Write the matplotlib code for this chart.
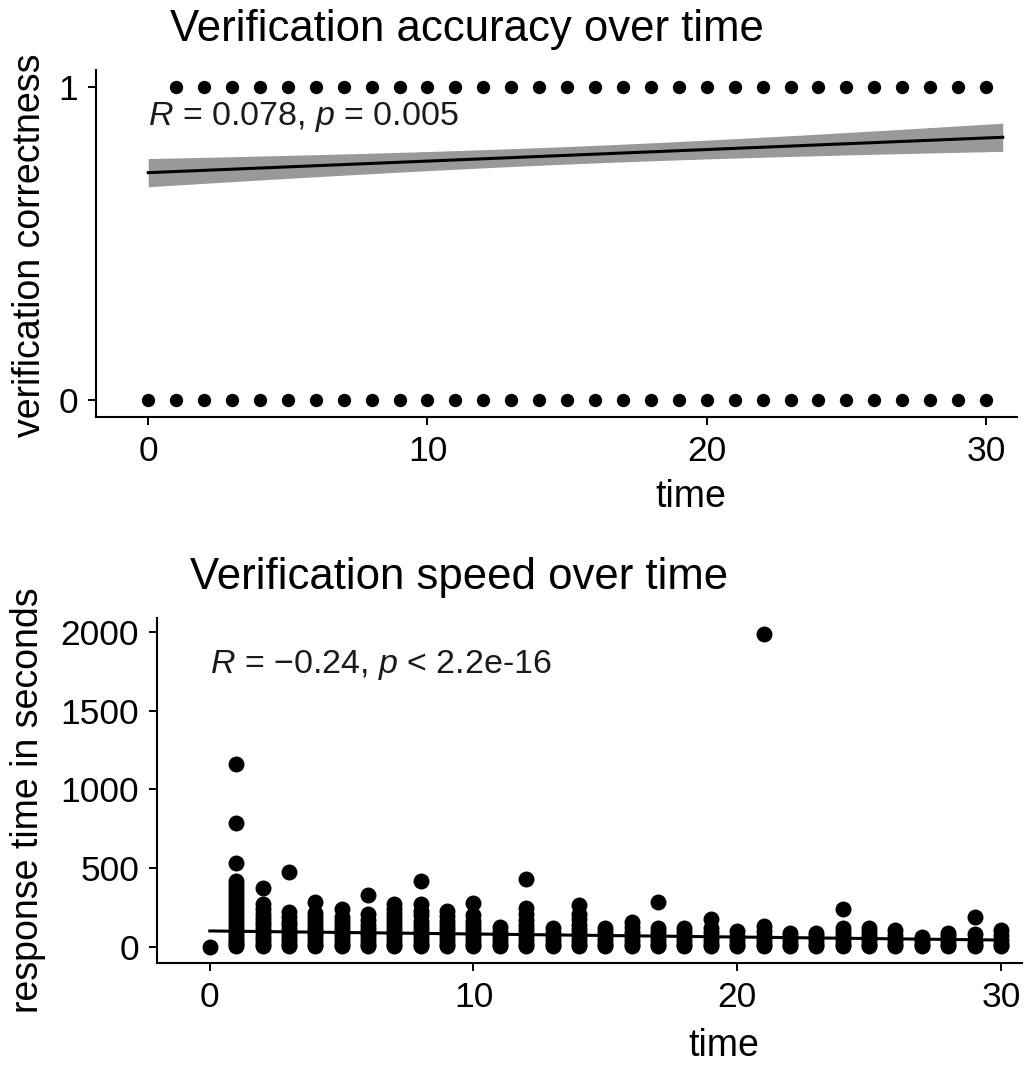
import matplotlib
matplotlib.use('Agg')
import matplotlib.pyplot as plt
import numpy as np

plt.rcParams['font.family'] = ['Liberation Sans', 'DejaVu Sans']
plt.rcParams['mathtext.fontset'] = 'custom'
plt.rcParams['mathtext.rm'] = 'Liberation Sans'
plt.rcParams['mathtext.it'] = 'Liberation Sans:italic'

# ---------------- data: verification accuracy ----------------
acc_time_wrong = [0, 1, 2, 3, 4, 5, 6, 7, 8, 9, 10, 11, 12, 13, 14, 15, 16, 17, 18, 19, 20,
                  21, 22, 23, 24, 25, 26, 27, 28, 29, 30]
acc_time_right = [1, 2, 3, 4, 5, 6, 7, 8, 9, 10, 11, 12, 13, 14, 15, 16, 17, 18, 19, 20,
                  21, 22, 23, 24, 25, 26, 27, 28, 29, 30]
acc_fit_intercept = 0.7255
acc_fit_slope = 0.00369
acc_fit_xmax = 30.6
acc_band_center = 0.028      # half-width of CI at mean time
acc_band_end = 0.045         # half-width of CI at the ends
acc_label = r'$\mathit{R}$ = 0.078, $\mathit{p}$ = 0.005'

# ---------------- data: verification speed ----------------
speed_time = (
    [0]
    + [1] * 22
    + [2] * 13
    + [3] * 11
    + [4] * 11
    + [5] * 10
    + [6] * 10
    + [7] * 12
    + [8] * 12
    + [9] * 10
    + [10] * 10
    + [11] * 6
    + [12] * 11
    + [13] * 6
    + [14] * 10
    + [15] * 6
    + [16] * 7
    + [17] * 7
    + [18] * 6
    + [19] * 7
    + [20] * 5
    + [21] * 7
    + [22] * 5
    + [23] * 5
    + [24] * 7
    + [25] * 6
    + [26] * 5
    + [27] * 4
    + [28] * 5
    + [29] * 5
    + [30] * 5
)
speed_seconds = (
    [0]
    + [5, 15, 30, 50, 70, 90, 115, 140, 165, 190, 215, 240, 265, 290, 315, 340, 365, 390, 418, 534, 789, 1162]
    + [5, 20, 40, 60, 85, 110, 135, 160, 185, 210, 240, 269, 375]
    + [5, 20, 40, 60, 85, 110, 135, 160, 190, 223, 477]
    + [5, 20, 40, 65, 90, 115, 140, 165, 190, 212, 286]
    + [5, 20, 40, 65, 90, 115, 140, 165, 190, 237]
    + [5, 20, 40, 65, 90, 115, 140, 170, 206, 329]
    + [5, 20, 40, 65, 90, 115, 140, 165, 190, 215, 240, 270]
    + [5, 20, 40, 65, 90, 115, 140, 165, 200, 230, 270, 420]
    + [5, 20, 40, 65, 90, 115, 140, 165, 195, 225]
    + [5, 20, 40, 65, 90, 115, 140, 165, 200, 276]
    + [5, 20, 40, 65, 95, 123]
    + [5, 20, 40, 65, 90, 115, 140, 170, 205, 245, 433]
    + [5, 20, 40, 65, 90, 120]
    + [5, 20, 40, 65, 90, 115, 140, 175, 205, 267]
    + [5, 20, 45, 70, 95, 121]
    + [5, 20, 45, 70, 95, 125, 159]
    + [5, 20, 45, 70, 95, 121, 285]
    + [5, 20, 45, 70, 95, 121]
    + [5, 20, 45, 70, 95, 121, 178]
    + [5, 20, 45, 70, 100]
    + [5, 20, 45, 70, 100, 131, 1990]
    + [5, 20, 45, 65, 89]
    + [5, 20, 45, 65, 89]
    + [5, 20, 45, 70, 95, 121, 242]
    + [5, 20, 45, 70, 95, 121]
    + [5, 20, 45, 75, 104]
    + [5, 20, 40, 61]
    + [5, 20, 45, 65, 89]
    + [5, 20, 45, 80, 187]
    + [5, 20, 45, 75, 104]
)
speed_fit_intercept = 100.0
speed_fit_slope = -1.93
speed_fit_xmax = 30.2
speed_label = r'$\mathit{R}$ = −0.24, $\mathit{p}$ < 2.2e-16'

x_ticks = [0, 10, 20, 30]
acc_y_ticks = [0, 1]
speed_y_ticks = [0, 500, 1000, 1500, 2000]

# ---------------- figure ----------------
W, H = 1029, 1068
fig = plt.figure(figsize=(W / 100, H / 100), dpi=100)


def rect(l, r, t, b):
    return [l / W, 1 - b / H, (r - l) / W, (b - t) / H]


def px(x, y):
    return x / W, 1 - y / H


TICK_FS = 25.5
LABEL_FS = 27
TITLE_FS = 31.5
ANNOT_FS = 24.5


def style(ax):
    for s in ['top', 'right']:
        ax.spines[s].set_visible(False)
    for s in ['left', 'bottom']:
        ax.spines[s].set_linewidth(1.5)
        ax.spines[s].set_color('black')
    ax.tick_params(direction='out', length=6, width=1.4, colors='black',
                   labelsize=TICK_FS, pad=7)
    ax.set_xticks(x_ticks)


# ---- top panel ----
ax1 = fig.add_axes(rect(96, 1016.7, 70, 416.7))
style(ax1)
ax1.set_xlim(-1.87, 31.1)
ax1.set_ylim(-0.053, 1.053)
ax1.set_yticks(acc_y_ticks)

xs = np.linspace(0, acc_fit_xmax, 200)
xm = acc_fit_xmax / 2
b = np.sqrt((acc_band_end ** 2 - acc_band_center ** 2)) / xm
hw = np.sqrt(acc_band_center ** 2 + (b * (xs - xm)) ** 2)
yfit = acc_fit_intercept + acc_fit_slope * xs
ax1.fill_between(xs, yfit - hw, yfit + hw, color='#999999', lw=0, zorder=2)
ax1.plot(xs, yfit, color='black', lw=2.2, zorder=3)
ax1.scatter(acc_time_wrong, [0] * len(acc_time_wrong), s=92, color='black',
            lw=0, zorder=4)
ax1.scatter(acc_time_right, [1] * len(acc_time_right), s=92, color='black',
            lw=0, zorder=4)
ax1.text(0, 0.903, acc_label, fontsize=ANNOT_FS, ha='left', va='center',
         color='#1a1a1a')

# ---- bottom panel ----
ax2 = fig.add_axes(rect(157.3, 1022, 618, 962.7))
style(ax2)
ax2.set_xlim(-1.99, 30.8)
ax2.set_ylim(-102, 2091)
ax2.set_yticks(speed_y_ticks)

ax2.scatter(speed_time, speed_seconds, s=132, color='black', lw=0, zorder=4)
xs2 = np.linspace(0, speed_fit_xmax, 100)
ax2.plot(xs2, speed_fit_intercept + speed_fit_slope * xs2, color='black',
         lw=2.2, zorder=5)
ax2.text(0, 1792, speed_label, fontsize=ANNOT_FS, ha='left', va='center',
         color='#1a1a1a')

# ---- titles and axis labels ----
fig.text(*px(170, 30), 'Verification accuracy over time', fontsize=TITLE_FS,
         ha='left', va='center')
fig.text(*px(190, 578), 'Verification speed over time', fontsize=TITLE_FS,
         ha='left', va='center')
fig.text(*px(691, 497), 'time', fontsize=LABEL_FS, ha='center', va='center')
fig.text(*px(724, 1046), 'time', fontsize=LABEL_FS, ha='center', va='center')
fig.text(*px(30, 245), 'verification correctness', fontsize=LABEL_FS,
         ha='center', va='center', rotation=90)
fig.text(*px(28, 800), 'response time in seconds', fontsize=LABEL_FS,
         ha='center', va='center', rotation=90)

fig.savefig('out.png', dpi=100)
